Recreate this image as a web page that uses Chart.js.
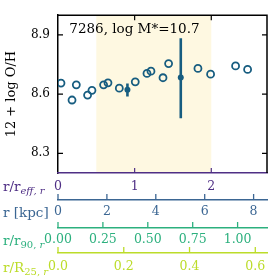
<!DOCTYPE html>
<html><head><meta charset="utf-8">
<style>html,body{margin:0;padding:0;background:#fff;overflow:hidden}canvas{display:block}</style>
<script src="https://cdn.jsdelivr.net/npm/chart.js@4/dist/chart.umd.min.js"></script>
</head><body>
<canvas id="c" width="277" height="277"></canvas>
<script>
// ---- data ----
const rEff   = [0.039, 0.183, 0.239, 0.386, 0.443, 0.595, 0.652, 0.800, 1.008, 1.161, 1.213, 1.370, 1.443, 1.826, 1.991, 2.317, 2.474];
const logOH  = [8.656, 8.570, 8.647, 8.595, 8.619, 8.647, 8.657, 8.630, 8.662, 8.705, 8.716, 8.683, 8.755, 8.730, 8.701, 8.743, 8.725];
const rBin   = [0.906, 1.602];
const ohBin  = [8.622, 8.684];
const ohLo   = [8.588, 8.478];
const ohHi   = [8.654, 8.883];
const shadeRange = [0.5, 2.0];
const yTicks = [8.3, 8.6, 8.9];
const yRange = [8.2, 9.0];
const reffMax = 2.727, kpcMax = 8.548, r90Max = 1.1637, r25Max = 0.6356;
const titleText = '7286, log M*=10.7';
const yTitle = '12 + log O/H';

const FONT = 'DejaVu Serif';
const cPurple = '#4f2f85', cBlue = '#3b6693', cGreen = '#2cb07e', cYel = '#bcdc2a';
const cMark = '#175d80';

const datasets = [{
  type: 'scatter', data: rEff.map((x, i) => ({x, y: logOH[i]})),
  pointRadius: 3.5, pointHoverRadius: 3.5, borderWidth: 1.8,
  borderColor: cMark, backgroundColor: 'rgba(0,0,0,0)', pointBorderColor: cMark, pointBackgroundColor: 'rgba(0,0,0,0)'
}];
rBin.forEach((x, i) => datasets.push({
  type: 'line', data: [{x, y: ohLo[i]}, {x, y: ohHi[i]}],
  borderColor: cMark, borderWidth: 2.6, pointRadius: 0, showLine: true, fill: false
}));
datasets.push({
  type: 'scatter', data: rBin.map((x, i) => ({x, y: ohBin[i]})),
  pointRadius: 3, pointHoverRadius: 3, borderWidth: 0, backgroundColor: cMark, pointBackgroundColor: cMark
});

function xAxis(min, max, step, color, weight, h, pad, dec) {
  return {
    type: 'linear', position: 'bottom', weight, min, max,
    ticks: {stepSize: step, includeBounds: false, color, padding: pad,
      font: {family: FONT, size: 12.5},
      callback: v => dec === null ? String(Math.round(v)) : Number(v).toFixed(dec)},
    grid: {display: false, drawTicks: false, tickLength: 0},
    border: {display: true, color, width: 1.5},
    afterFit: s => { s.height = h; }
  };
}

function drawRich(ctx, x, y, parts, color) {
  ctx.fillStyle = color; ctx.textBaseline = 'alphabetic'; ctx.textAlign = 'left';
  for (const p of parts) {
    ctx.font = (p.it ? 'italic ' : '') + p.size + 'px "' + FONT + '"';
    ctx.fillText(p.t, x, y + (p.sub ? 3 : 0));
    x += ctx.measureText(p.t).width;
  }
}

const deco = {
  id: 'deco',
  beforeDraw(chart) {
    const {ctx, chartArea: a, scales} = chart;
    const x0 = scales.x.getPixelForValue(shadeRange[0]);
    const x1 = scales.x.getPixelForValue(shadeRange[1]);
    ctx.save(); ctx.fillStyle = '#fef8e1';
    ctx.fillRect(x0, a.top, x1 - x0, a.bottom - a.top); ctx.restore();
  },
  afterDraw(chart) {
    const {ctx, chartArea: a, scales} = chart;
    ctx.save();
    ctx.strokeStyle = '#000'; ctx.lineWidth = 1.5;
    ctx.beginPath(); ctx.moveTo(a.left - 0.75, a.top); ctx.lineTo(a.right, a.top); ctx.lineTo(a.right, a.bottom); ctx.stroke();
    ctx.lineWidth = 1.2;
    for (const v of yTicks) {
      const y = scales.y.getPixelForValue(v);
      ctx.beginPath(); ctx.moveTo(a.left, y); ctx.lineTo(a.left + 5, y);
      ctx.moveTo(a.right, y); ctx.lineTo(a.right - 5, y); ctx.stroke();
    }
    for (const t of scales.x.ticks) {
      if (t.value === 0) continue;
      const x = scales.x.getPixelForValue(t.value);
      ctx.strokeStyle = cPurple;
      ctx.beginPath(); ctx.moveTo(x, a.bottom); ctx.lineTo(x, a.bottom - 5); ctx.stroke();
      ctx.strokeStyle = '#000';
      ctx.beginPath(); ctx.moveTo(x, a.top); ctx.lineTo(x, a.top + 5); ctx.stroke();
    }
    for (const [id, col] of [['kpc', cBlue], ['r90', cGreen], ['r25', cYel]]) {
      const s = scales[id];
      ctx.strokeStyle = col; ctx.lineWidth = 1.3;
      for (const t of s.ticks) {
        const x = s.getPixelForValue(t.value);
        ctx.beginPath(); ctx.moveTo(x, s.top); ctx.lineTo(x, s.top - 6); ctx.stroke();
      }
    }
    drawRich(ctx, 3, scales.x.top + 18, [{t: 'r/r', size: 13.5}, {t: 'eff, r', size: 10, it: true, sub: true}], cPurple);
    drawRich(ctx, 3, scales.kpc.top + 17, [{t: 'r [kpc]', size: 13.5}], cBlue);
    drawRich(ctx, 3, scales.r90.top + 16.5, [{t: 'r/r', size: 13.5}, {t: '90, ', size: 10, sub: true}, {t: 'r', size: 10, it: true, sub: true}], cGreen);
    drawRich(ctx, 3, scales.r25.top + 19, [{t: 'r/R', size: 13.5}, {t: '25, ', size: 10, sub: true}, {t: 'r', size: 10, it: true, sub: true}], cYel);
    ctx.fillStyle = '#000'; ctx.font = '13.5px "' + FONT + '"'; ctx.textBaseline = 'alphabetic'; ctx.textAlign = 'left';
    ctx.fillText(titleText, 69.3, 32.7);
    ctx.restore();
  }
};

new Chart(document.getElementById('c'), {
  type: 'scatter',
  data: {datasets},
  options: {
    responsive: false, animation: false, devicePixelRatio: 1,
    layout: {padding: {top: 15, right: 10, left: 0, bottom: 0}},
    plugins: {legend: {display: false}, tooltip: {enabled: false}},
    scales: {
      y: {
        type: 'linear', position: 'left', min: yRange[0], max: yRange[1],
        afterBuildTicks: s => { s.ticks = yTicks.map(v => ({value: v})); },
        ticks: {color: '#000', padding: 8, font: {family: FONT, size: 12}, callback: v => Number(v).toFixed(1)},
        grid: {display: false, drawTicks: false, tickLength: 0},
        border: {display: true, color: '#000', width: 1.5},
        title: {display: true, text: yTitle, color: '#000', font: {family: FONT, size: 13}, padding: {top: 4, bottom: 0}},
        afterFit: s => { s.width = 58; }
      },
      x: xAxis(0, reffMax, 1, cPurple, 0, 27, 6, null),
      kpc: xAxis(0, kpcMax, 2, cBlue, 1, 28, 4.5, null),
      r90: xAxis(0, r90Max, 0.25, cGreen, 2, 25, 4.2, 2),
      r25: xAxis(0, r25Max, 0.2, cYel, 3, 24, 6.5, 1)
    }
  },
  plugins: [deco]
});
</script>
</body></html>
